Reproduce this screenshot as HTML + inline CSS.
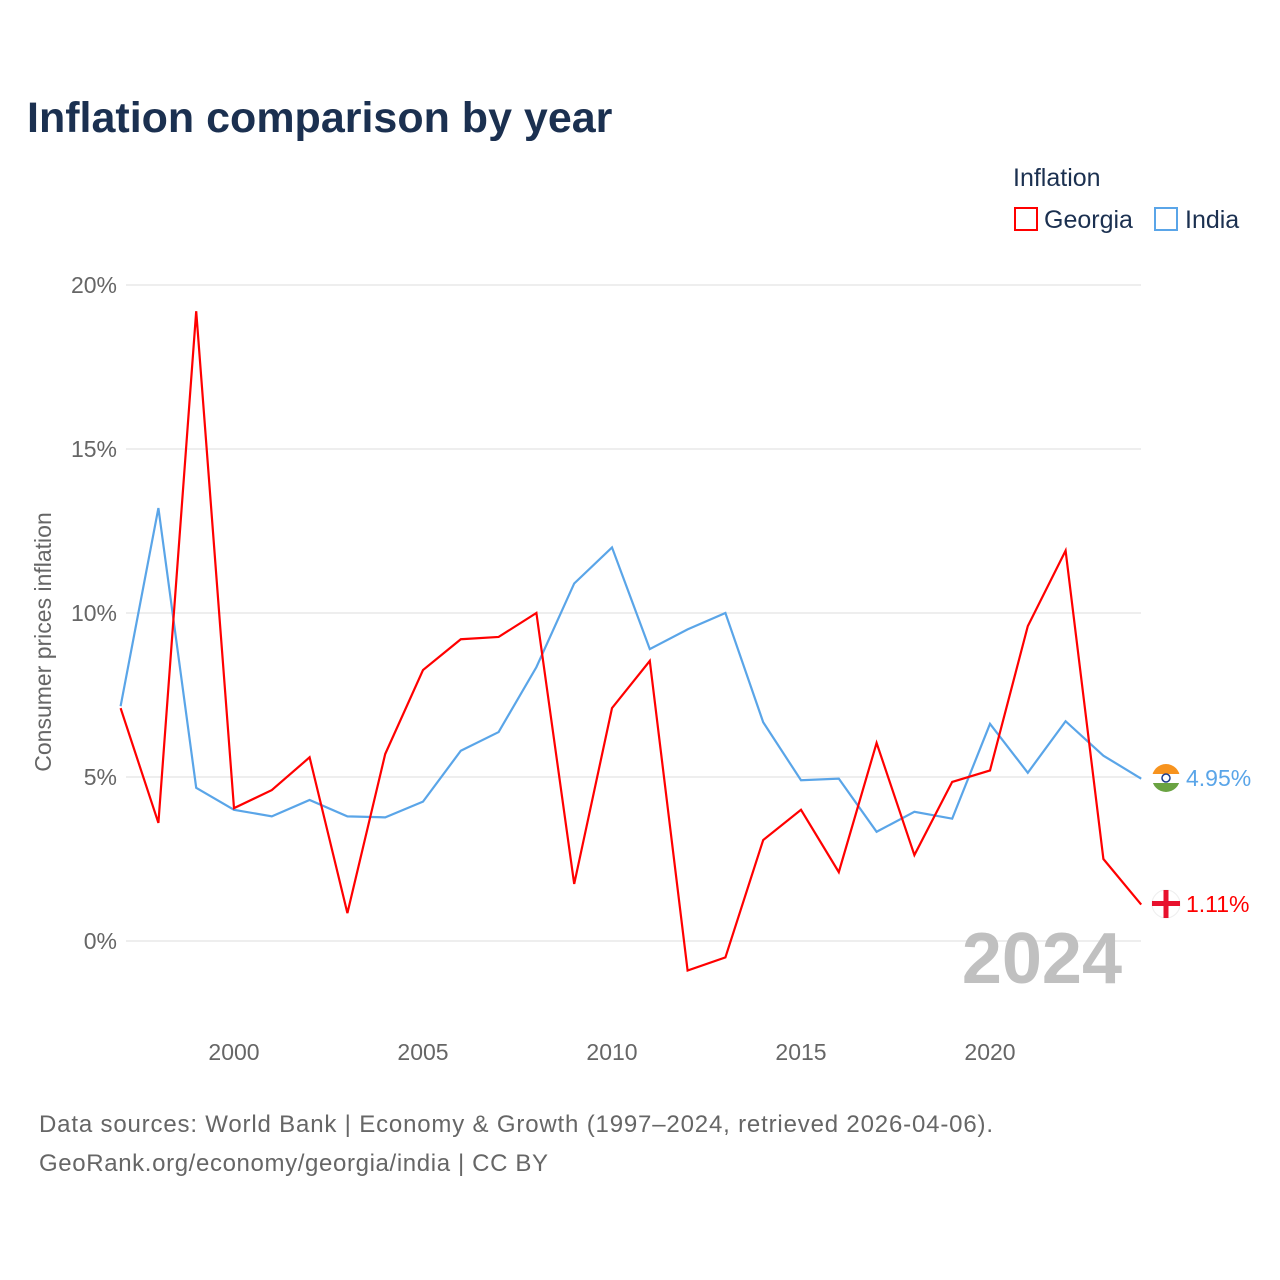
<!DOCTYPE html>
<html><head><meta charset="utf-8">
<style>
html,body{margin:0;padding:0;background:#fff;}
body{width:1280px;height:1280px;position:relative;font-family:"Liberation Sans",sans-serif;overflow:hidden;}
</style></head>
<body>
<svg id="chart" width="1280" height="1280" xmlns="http://www.w3.org/2000/svg" style="position:absolute;left:0;top:0">
<text x="27" y="132" font-size="43" font-weight="bold" fill="#1b3050">Inflation comparison by year</text>
<text x="1013" y="186" font-size="25" fill="#1b3050">Inflation</text>
<g>
<rect x="1015" y="208" width="22" height="22" fill="none" stroke="#f00" stroke-width="2"/>
<text x="1044" y="228" font-size="25" fill="#1b3050">Georgia</text></g>
<g>
<rect x="1155" y="208" width="22" height="22" fill="none" stroke="#5aa5e8" stroke-width="2"/>
<text x="1185" y="228" font-size="25" fill="#1b3050">India</text></g>
<text transform="translate(51,642) rotate(-90)" text-anchor="middle" font-size="23" fill="#666">Consumer prices inflation</text>
<g id="grid"></g><g id="xt"></g>
<text x="1122" y="983" text-anchor="end" font-size="72" font-weight="bold" fill="#c0c0c0">2024</text>
<g id="lines"></g>
<g>
<clipPath id="c1"><circle cx="1166" cy="778" r="14"/></clipPath>
<g clip-path="url(#c1)"><rect x="1150" y="764" width="32" height="10" fill="#f7931e"/><rect x="1150" y="774" width="32" height="9" fill="#fff"/><rect x="1150" y="783" width="32" height="10" fill="#6aa342"/></g>
<circle cx="1166" cy="778" r="4" fill="none" stroke="#1a3a8a" stroke-width="1.5"/></g>
<text x="1186" y="786" font-size="23" fill="#5aa5e8">4.95%</text>
<g>
<circle cx="1166" cy="904" r="14" fill="#fff" stroke="#eee"/>
<rect x="1152" y="901" width="28" height="5" fill="#e8112d"/><rect x="1163.5" y="890" width="5" height="28" fill="#e8112d"/></g>
<text x="1186" y="912" font-size="23" fill="#f00">1.11%</text>
<text x="39" y="1132" font-size="24" fill="#666" textLength="954" lengthAdjust="spacing">Data sources: World Bank | Economy &amp; Growth (1997–2024, retrieved 2026-04-06).</text>
<text x="39" y="1171" font-size="24" fill="#666" textLength="509" lengthAdjust="spacing">GeoRank.org/economy/georgia/india | CC BY</text>
</svg>
<script>
const years=[1997,1998,1999,2000,2001,2002,2003,2004,2005,2006,2007,2008,2009,2010,2011,2012,2013,2014,2015,2016,2017,2018,2019,2020,2021,2022,2023,2024];
const georgia=[7.1,3.6,19.2,4.05,4.6,5.6,0.85,5.7,8.26,9.2,9.27,10.0,1.74,7.1,8.54,-0.9,-0.5,3.08,4.0,2.1,6.04,2.62,4.85,5.2,9.6,11.9,2.5,1.11];
const india=[7.16,13.2,4.67,4.0,3.8,4.3,3.8,3.77,4.25,5.8,6.37,8.35,10.9,12.0,8.9,9.5,10.0,6.67,4.9,4.95,3.33,3.94,3.73,6.62,5.13,6.7,5.65,4.95];
const yTicks=[0,5,10,15,20];
const xTicks=[2000,2005,2010,2015,2020];
const NS="http://www.w3.org/2000/svg";
const X=y=>120.6+(y-1997)*37.8;
const Y=v=>941-v*32.8;
const grid=document.getElementById('grid');
yTicks.forEach(t=>{
 const l=document.createElementNS(NS,'line');
 l.setAttribute('x1',126);l.setAttribute('x2',1141);l.setAttribute('y1',Y(t));l.setAttribute('y2',Y(t));
 l.setAttribute('stroke','#e8e8e8');l.setAttribute('stroke-width','1.5');
 
 
 grid.appendChild(l);
 const tx=document.createElementNS(NS,'text');
 tx.setAttribute('x',117);tx.setAttribute('y',Y(t)+8);tx.setAttribute('text-anchor','end');
 tx.setAttribute('font-size','23');tx.setAttribute('fill','#666');tx.textContent=t+'%';
 
 
 grid.appendChild(tx);
});
const xt=document.getElementById('xt');
xTicks.forEach(t=>{
 const tx=document.createElementNS(NS,'text');
 tx.setAttribute('x',X(t));tx.setAttribute('y',1060);tx.setAttribute('text-anchor','middle');
 tx.setAttribute('font-size','23');tx.setAttribute('fill','#666');tx.textContent=t;
 
 
 xt.appendChild(tx);
});
const lines=document.getElementById('lines');
function draw(vals,color,name){
 const p=document.createElementNS(NS,'polyline');
 p.setAttribute('points',vals.map((v,i)=>X(years[i])+','+Y(v)).join(' '));
 p.setAttribute('fill','none');p.setAttribute('stroke',color);p.setAttribute('stroke-width','2.2');
 
 
 lines.appendChild(p);
}
draw(india,'#5aa5e8','india-line');
draw(georgia,'#f00','georgia-line');
</script>
</body></html>
